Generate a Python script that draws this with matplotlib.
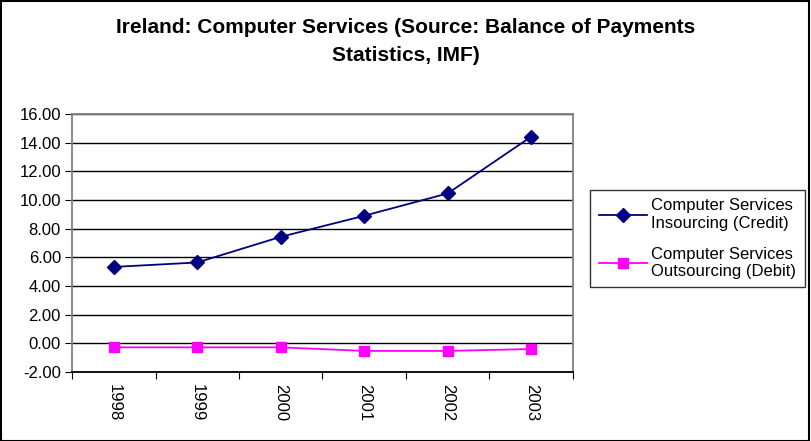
import numpy as np
import matplotlib
matplotlib.use('Agg')
import matplotlib.pyplot as plt
from matplotlib.patches import Rectangle
from matplotlib.ticker import FormatStrFormatter

plt.rcParams['font.family'] = ['Liberation Sans', 'DejaVu Sans']

years = ['1998', '1999', '2000', '2001', '2002', '2003']
credit = [5.33, 5.64, 7.43, 8.90, 10.46, 14.42]
debit = [-0.28, -0.28, -0.28, -0.53, -0.53, -0.40]

fig = plt.figure(figsize=(8.11, 4.41), dpi=100)
ax = fig.add_axes([0.0888, 0.1565, 0.6177, 0.585])

x = np.arange(len(years)) + 0.5
ax.plot(x, credit, color='#000080', marker='D', markersize=7, lw=1.3,
        label='Computer Services\nInsourcing (Credit)')
ax.plot(x, debit, color='#FF00FF', marker='s', markersize=7, lw=1.3,
        label='Computer Services\nOutsourcing (Debit)')

ax.set_xlim(0, len(years))
ax.set_ylim(-2, 16)
ax.set_yticks(np.arange(-2, 17, 2))
ax.yaxis.set_major_formatter(FormatStrFormatter('%.2f'))
ax.set_xticks(np.arange(len(years) + 1))
ax.set_xticklabels([])
ax.set_xticks(x, minor=True)
ax.set_xticklabels(years, minor=True, rotation=-90, fontsize=12)
ax.tick_params(axis='x', which='minor', length=0, pad=9)
ax.tick_params(axis='both', which='major', direction='out', length=5,
               color='black', labelsize=12)
ax.tick_params(axis='y', pad=3)
ax.grid(axis='y', color='black', lw=1)
ax.set_axisbelow(True)
for s in ax.spines.values():
    s.set_color('#808080')
    s.set_linewidth(1.3)
ax.spines['bottom'].set_color('black')

fig.text(0.5, 0.96, 'Ireland: Computer Services (Source: Balance of Payments\nStatistics, IMF)',
         ha='center', va='top', fontsize=15, fontweight='bold', linespacing=1.6)

leg = fig.legend(loc='upper left', bbox_to_anchor=(0.728, 0.569), fontsize=12,
                 fancybox=False, frameon=True, edgecolor='black', handlelength=2.9,
                 borderpad=0.5, labelspacing=0.95, handletextpad=0.25,
                 borderaxespad=0)
leg.get_frame().set_linewidth(1)

fig.patches.append(Rectangle((0.001, 0.001), 0.997, 0.997, transform=fig.transFigure,
                             fill=False, edgecolor='black', lw=1.5))

plt.savefig('out.png', dpi=100)
